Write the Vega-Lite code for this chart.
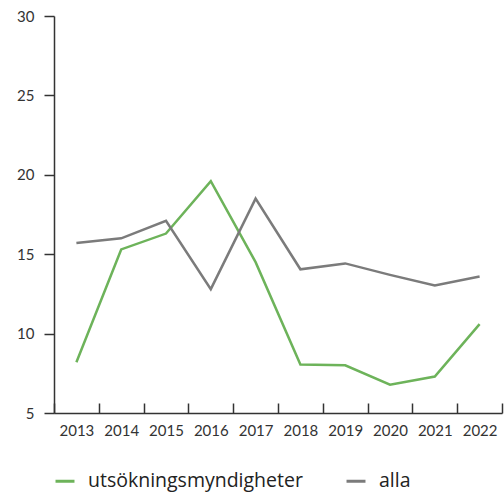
{
  "$schema": "https://vega.github.io/schema/vega-lite/v6.json",
  "width": 448,
  "height": 397,
  "autosize": {"type": "none"},
  "padding": {"left": 54, "top": 16, "right": 2, "bottom": 79},
  "config": {
    "view": {"stroke": null},
    "font": "Lato",
    "axis": {"grid": false, "domainColor": "#333333", "tickColor": "#333333", "domainWidth": 1.5, "tickWidth": 1.5, "labelColor": "#333333", "labelFontSize": 15, "labelFont": "Lato", "titleFontSize": 0}
  },
  "data": {"values": [
    {"year": "2013", "serie": "utsökningsmyndigheter", "value": 8.2},
    {"year": "2014", "serie": "utsökningsmyndigheter", "value": 15.3},
    {"year": "2015", "serie": "utsökningsmyndigheter", "value": 16.3},
    {"year": "2016", "serie": "utsökningsmyndigheter", "value": 19.6},
    {"year": "2017", "serie": "utsökningsmyndigheter", "value": 14.5},
    {"year": "2018", "serie": "utsökningsmyndigheter", "value": 8.05},
    {"year": "2019", "serie": "utsökningsmyndigheter", "value": 8.0},
    {"year": "2020", "serie": "utsökningsmyndigheter", "value": 6.78},
    {"year": "2021", "serie": "utsökningsmyndigheter", "value": 7.3},
    {"year": "2022", "serie": "utsökningsmyndigheter", "value": 10.6},
    {"year": "2013", "serie": "alla", "value": 15.7},
    {"year": "2014", "serie": "alla", "value": 16.0},
    {"year": "2015", "serie": "alla", "value": 17.1},
    {"year": "2016", "serie": "alla", "value": 12.8},
    {"year": "2017", "serie": "alla", "value": 18.5},
    {"year": "2018", "serie": "alla", "value": 14.05},
    {"year": "2019", "serie": "alla", "value": 14.42},
    {"year": "2020", "serie": "alla", "value": 13.7},
    {"year": "2021", "serie": "alla", "value": 13.03},
    {"year": "2022", "serie": "alla", "value": 13.6}
  ]},
  "mark": {"type": "line", "strokeWidth": 2.5},
  "encoding": {
    "x": {"field": "year", "type": "ordinal", "bandPosition": 0.5,
      "scale": {"type": "band", "paddingInner": 0, "paddingOuter": 0},
      "axis": {"title": null, "labelAngle": 0, "tickBand": "extent", "tickSize": -10, "labelPadding": 20}},
    "y": {"field": "value", "type": "quantitative",
      "scale": {"domain": [5, 30], "zero": false},
      "axis": {"title": null, "values": [5, 10, 15, 20, 25, 30], "tickSize": 10, "labelPadding": 10}},
    "color": {"field": "serie", "type": "nominal",
      "scale": {"domain": ["utsökningsmyndigheter", "alla"], "range": ["#6db35a", "#7b7b7b"]},
      "legend": {"title": null, "orient": "none", "legendX": 0, "legendY": 454, "direction": "horizontal", "symbolType": "stroke", "symbolSize": 360, "symbolStrokeWidth": 3, "labelFontSize": 19.5, "labelFont": "Open Sans", "labelColor": "#222222", "labelLimit": 400, "columnPadding": 37, "labelOffset": 12}}
  }
}
